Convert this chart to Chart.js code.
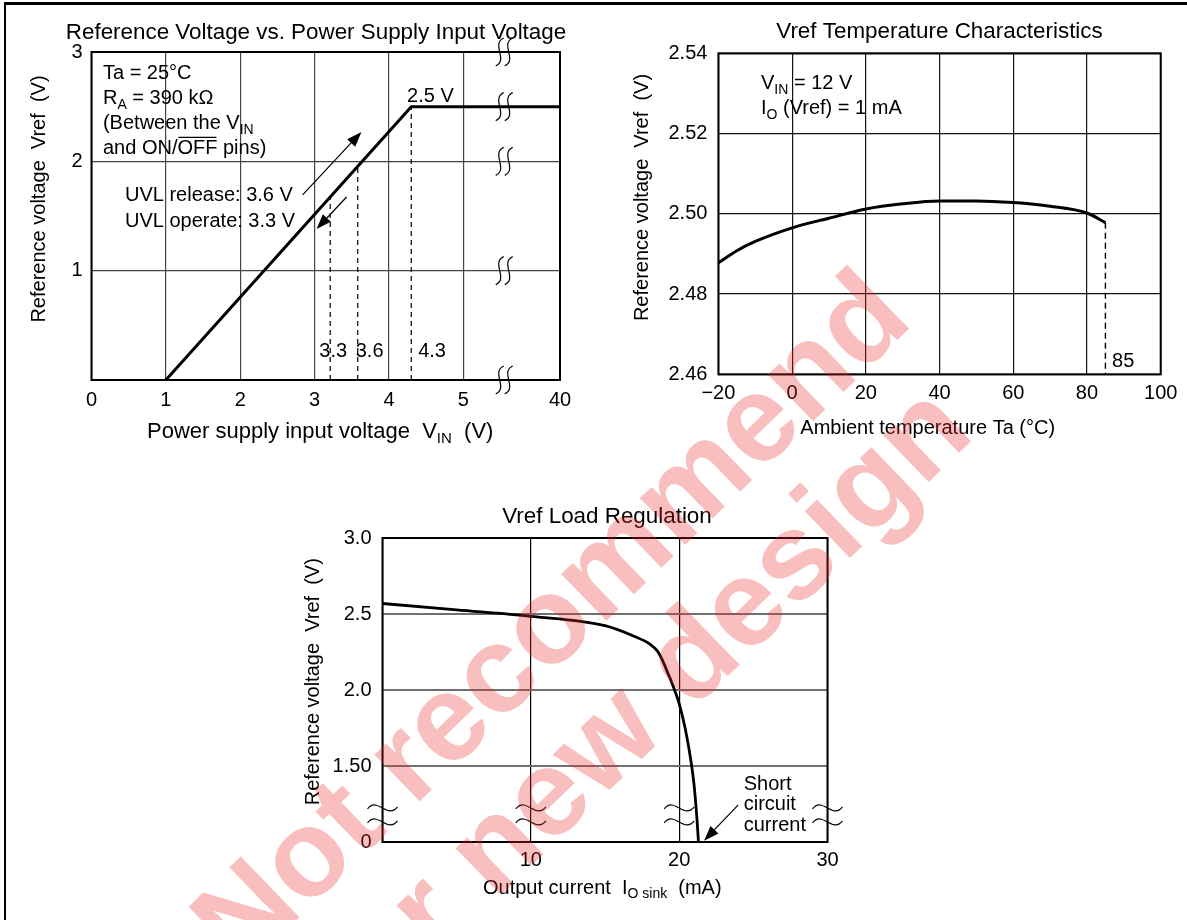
<!DOCTYPE html>
<html>
<head>
<meta charset="utf-8">
<script src="https://cdn.jsdelivr.net/npm/chart.js@4.4.1/dist/chart.umd.min.js"></script>
<style>
  body { margin: 0; background: #fff; width: 1187px; height: 920px; overflow: hidden; position: relative; }
  .frame { position: absolute; left: 4px; top: 2px; width: 1200px; height: 960px; border-left: 2px solid #000; border-top: 3px solid #000; }
  canvas { position: absolute; }
  #vinChart { left: 0; top: 0; }
  #tempChart { left: 600px; top: 0; }
  #loadChart { left: 290px; top: 480px; }
  #stamp { left: 0; top: 0; pointer-events: none; }
</style>
</head>
<body>
<div class="frame"></div>
<canvas id="vinChart" width="600" height="450"></canvas>
<canvas id="tempChart" width="587" height="450"></canvas>
<canvas id="loadChart" width="580" height="440"></canvas>
<canvas id="stamp" width="1187" height="920"></canvas>
<script>
// --- Vref vs. VIN (x axis broken between 5 V and 40 V)
const vinPoints = [1, 4.3, 40];
const vrefVsVin = [0, 2.5, 2.5];
const vinTicks = [0, 1, 2, 3, 4, 5, 40];
const vrefTicks = [0, 1, 2, 3];
const uvlMarks = [3.21, 3.58, 4.3];
const uvlLabels = ['3.3', '3.6', '4.3'];

// --- Vref vs. ambient temperature
const tempC = [-20, -15, -10, 0, 10, 20, 30, 40, 50, 60, 70, 80, 85];
const vrefVsTemp = [2.4878, 2.4908, 2.4931, 2.4965, 2.4989, 2.5012, 2.5025, 2.5032, 2.5032, 2.5028, 2.5019, 2.5002, 2.4978];
const tempTicks = [-20, 0, 20, 40, 60, 80, 100];
const tempVrefTicks = [2.46, 2.48, 2.50, 2.52, 2.54];

// --- Vref load regulation (y axis broken between 0 and 1.5 V)
const ioSink = [0, 5, 10, 15, 17, 18, 18.55, 18.9, 19.2, 19.5, 19.8, 20, 20.5, 21, 21.2, 21.3];
const vrefVsLoad = [2.569, 2.527, 2.485, 2.423, 2.352, 2.304, 2.254, 2.19, 2.12, 2.05, 1.97, 1.91, 1.70, 1.38, 1.15, 0];
const ioTicks = [0, 10, 20, 30];
const loadTickPos = [1.0, 1.5, 2.0, 2.5, 3.0];
const loadTickText = ['0', '1.50', '2.0', '2.5', '3.0'];

const FONT = '"Liberation Sans", Arial, Helvetica, sans-serif';
Chart.defaults.font.family = FONT;
Chart.defaults.color = '#000';

// broken axes
const mapVin = v => v <= 5 ? v : 5 + (v - 5) * (1.3 / 35);
const mapLoad = v => v <= 0 ? 1.0 : v;

function interp(xs, ys, x) {
    for (let i = 1; i < xs.length; i++) {
        if (x <= xs[i]) return ys[i - 1] + (ys[i] - ys[i - 1]) * (x - xs[i - 1]) / (xs[i] - xs[i - 1]);
    }
    return ys[ys.length - 1];
}

function setFont(ctx, size, weight) {
    ctx.font = (weight || 'normal') + ' ' + size + 'px ' + FONT;
}

// parts: [text, style] with style '' | 'sub' | 'over'; y is the middle of capitals
function drawRich(ctx, parts, x, y, size, align) {
    const subSize = Math.round(size * 0.7);
    let total = 0;
    const widths = parts.map(([t, s]) => {
        setFont(ctx, s === 'sub' ? subSize : size);
        const w = ctx.measureText(t).width;
        total += w;
        return w;
    });
    let cx = align === 'center' ? x - total / 2 : (align === 'right' ? x - total : x);
    const base = y + size * 0.36;
    ctx.save();
    ctx.textAlign = 'left';
    ctx.textBaseline = 'alphabetic';
    ctx.fillStyle = '#000';
    ctx.strokeStyle = '#000';
    parts.forEach(([t, s], i) => {
        setFont(ctx, s === 'sub' ? subSize : size);
        ctx.fillText(t, cx, s === 'sub' ? base + size * 0.22 : base);
        if (s === 'over') {
            ctx.lineWidth = 1.3;
            ctx.beginPath();
            ctx.moveTo(cx + 1, base - size * 0.84);
            ctx.lineTo(cx + widths[i] - 1, base - size * 0.84);
            ctx.stroke();
        }
        cx += widths[i];
    });
    ctx.restore();
}

function drawVertical(ctx, text, cx, cy, size) {
    ctx.save();
    ctx.translate(cx, cy);
    ctx.rotate(-Math.PI / 2);
    drawRich(ctx, [[text, '']], 0, 0, size, 'center');
    ctx.restore();
}

function px(chart, x, y) {
    return [chart.scales.x.getPixelForValue(x), chart.scales.y.getPixelForValue(y)];
}

function arrow(ctx, a, b, head, half) {
    const ang = Math.atan2(b[1] - a[1], b[0] - a[0]);
    ctx.save();
    ctx.strokeStyle = '#000';
    ctx.fillStyle = '#000';
    ctx.lineWidth = 1.2;
    ctx.beginPath();
    ctx.moveTo(a[0], a[1]);
    ctx.lineTo(b[0] - Math.cos(ang) * head * 0.8, b[1] - Math.sin(ang) * head * 0.8);
    ctx.stroke();
    ctx.translate(b[0], b[1]);
    ctx.rotate(ang);
    ctx.beginPath();
    ctx.moveTo(0, 0);
    ctx.lineTo(-head, -half);
    ctx.lineTo(-head, half);
    ctx.closePath();
    ctx.fill();
    ctx.restore();
}

function frameArea(chart, width) {
    const a = chart.chartArea, ctx = chart.ctx;
    ctx.save();
    ctx.strokeStyle = '#000';
    ctx.lineWidth = width;
    ctx.strokeRect(a.left, a.top, a.right - a.left, a.bottom - a.top);
    ctx.restore();
}

function fixedBox(left, bottomHeight) {
    return {
        x: s => { s.height = bottomHeight; },
        y: s => { s.width = left; }
    };
}

function baseOptions(padding) {
    return {
        responsive: false,
        animation: false,
        events: [],
        layout: { padding: padding },
        plugins: { legend: { display: false }, tooltip: { enabled: false }, title: { display: false } },
        scales: {}
    };
}

// ---------------- chart 1: Vref vs VIN ----------------
const vinBox = fixedBox(91.5, 70);
const vinOpts = baseOptions({ top: 52, right: 40, left: 0, bottom: 0 });
vinOpts.scales = {
    x: {
        type: 'linear', min: 0, max: mapVin(40),
        afterBuildTicks: s => { s.ticks = vinTicks.map(v => ({ value: mapVin(v) })); },
        afterFit: vinBox.x,
        ticks: { font: { size: 20 }, padding: 8, maxRotation: 0, autoSkip: false, callback: (v, i) => String(vinTicks[i]) },
        grid: { color: '#444', lineWidth: 1.2, drawTicks: false },
        border: { display: false }
    },
    y: {
        min: 0, max: 3,
        afterBuildTicks: s => { s.ticks = vrefTicks.map(v => ({ value: v })); },
        afterFit: vinBox.y,
        ticks: { font: { size: 20 }, padding: 9, callback: (v, i) => vrefTicks[i] === 0 ? '' : String(vrefTicks[i]) },
        grid: { color: '#444', lineWidth: 1.2, drawTicks: false },
        border: { display: false }
    }
};

new Chart(document.getElementById('vinChart'), {
    type: 'line',
    data: {
        datasets: [{
            data: vinPoints.map((v, i) => ({ x: mapVin(v), y: vrefVsVin[i] })),
            borderColor: '#000', borderWidth: 3, pointRadius: 0, tension: 0, fill: false
        }]
    },
    options: vinOpts,
    plugins: [{
        id: 'vinExtras',
        beforeDatasetsDraw(chart) {
            const ctx = chart.ctx;
            frameArea(chart, 2);
            // dashed drop lines
            ctx.save();
            ctx.strokeStyle = '#000';
            ctx.lineWidth = 1.2;
            ctx.setLineDash([5, 4]);
            uvlMarks.forEach(m => {
                const top = px(chart, m, interp(vinPoints, vrefVsVin, m));
                const bot = px(chart, m, 0);
                ctx.beginPath();
                ctx.moveTo(top[0], bot[1]);
                ctx.lineTo(top[0], top[1]);
                ctx.stroke();
            });
            ctx.restore();
        },
        afterDatasetsDraw(chart) {
            const ctx = chart.ctx;
            drawRich(ctx, [['Reference Voltage vs. Power Supply Input Voltage', '']], 316, 31, 22.4, 'center');
            drawVertical(ctx, 'Reference voltage  Vref  (V)', 38, 199, 20);
            drawRich(ctx, [['Power supply input voltage  V', ''], ['IN', 'sub'], ['  (V)', '']], 147, 430, 22, 'left');

            const note = [
                [['Ta = 25°C', '']],
                [['R', ''], ['A', 'sub'], [' = 390 kΩ', '']],
                [['(Between the V', ''], ['IN', 'sub']],
                [['and ON/', ''], ['OFF', 'over'], [' pins)', '']]
            ];
            const noteY = [2.818, 2.589, 2.36, 2.132];
            note.forEach((parts, i) => {
                const p = px(chart, 0.154, noteY[i]);
                drawRich(ctx, parts, p[0], p[1], 20, 'left');
            });
            let p = px(chart, 0.45, 1.70);
            drawRich(ctx, [['UVL release: 3.6 V', '']], p[0], p[1], 20, 'left');
            p = px(chart, 0.45, 1.464);
            drawRich(ctx, [['UVL operate: 3.3 V', '']], p[0], p[1], 20, 'left');
            p = px(chart, 4.557, 2.607);
            drawRich(ctx, [['2.5 V', '']], p[0], p[1], 20, 'center');
            const labelX = [3.25, 3.74, 4.58];
            uvlLabels.forEach((t, i) => {
                const q = px(chart, labelX[i], 0.274);
                drawRich(ctx, [[t, '']], q[0], q[1], 20, 'center');
            });

            arrow(ctx, px(chart, 2.839, 1.693), px(chart, 3.63, 2.269), 15, 5.5);
            arrow(ctx, px(chart, 3.43, 1.674), px(chart, 3.027, 1.381), 15, 5.5);

            // axis break marks
            ctx.save();
            ctx.strokeStyle = '#000';
            ctx.lineWidth = 1.2;
            [0, 1, 2, 2.5, 3].forEach(v => {
                const c = px(chart, 5.55, v);
                [-4.5, 4.5].forEach(dx => {
                    const x = c[0] + dx, y = c[1];
                    ctx.beginPath();
                    ctx.moveTo(x + 4, y - 14);
                    ctx.bezierCurveTo(x - 9, y - 8, x + 9, y + 8, x - 4, y + 14);
                    ctx.stroke();
                });
            });
            ctx.restore();
        }
    }]
});

// ---------------- chart 2: Vref vs temperature ----------------
const tempBox = fixedBox(118.4, 75.7);
const tempOpts = baseOptions({ top: 53.3, right: 26.3, left: 0, bottom: 0 });
tempOpts.scales = {
    x: {
        type: 'linear', min: -20, max: 100,
        afterBuildTicks: s => { s.ticks = tempTicks.map(v => ({ value: v })); },
        afterFit: tempBox.x,
        ticks: { font: { size: 20 }, padding: 7, maxRotation: 0, autoSkip: false, callback: (v, i) => tempTicks[i] < 0 ? '\u2212' + Math.abs(tempTicks[i]) : String(tempTicks[i]) },
        grid: { color: '#111', lineWidth: 1.2, drawTicks: false },
        border: { display: false }
    },
    y: {
        min: 2.46, max: 2.54,
        afterBuildTicks: s => { s.ticks = tempVrefTicks.map(v => ({ value: v })); },
        afterFit: tempBox.y,
        ticks: { font: { size: 20 }, padding: 11, callback: (v, i) => tempVrefTicks[i].toFixed(2) },
        grid: { color: '#111', lineWidth: 1.2, drawTicks: false },
        border: { display: false }
    }
};

new Chart(document.getElementById('tempChart'), {
    type: 'line',
    data: {
        datasets: [{
            data: tempC.map((t, i) => ({ x: t, y: vrefVsTemp[i] })),
            borderColor: '#000', borderWidth: 3, pointRadius: 0,
            cubicInterpolationMode: 'monotone', fill: false
        }]
    },
    options: tempOpts,
    plugins: [{
        id: 'tempExtras',
        beforeDatasetsDraw(chart) {
            const ctx = chart.ctx;
            frameArea(chart, 2);
            const last = tempC.length - 1;
            const top = px(chart, tempC[last], vrefVsTemp[last]);
            const bot = px(chart, tempC[last], 2.46);
            ctx.save();
            ctx.strokeStyle = '#000';
            ctx.lineWidth = 1.4;
            ctx.setLineDash([6, 4]);
            ctx.beginPath();
            ctx.moveTo(top[0], top[1]);
            ctx.lineTo(bot[0], bot[1]);
            ctx.stroke();
            ctx.restore();
        },
        afterDatasetsDraw(chart) {
            const ctx = chart.ctx;
            drawRich(ctx, [['Vref Temperature Characteristics', '']], 339.5, 30, 22.4, 'center');
            drawVertical(ctx, 'Reference voltage  Vref  (V)', 41, 197.5, 20);
            drawRich(ctx, [['Ambient temperature Ta (°C)', '']], 327.7, 427, 20, 'center');
            let p = px(chart, -8.44, 2.5328);
            drawRich(ctx, [['V', ''], ['IN', 'sub'], [' = 12 V', '']], p[0], p[1], 20, 'left');
            p = px(chart, -8.44, 2.5266);
            drawRich(ctx, [['I', ''], ['O', 'sub'], [' (Vref) = 1 mA', '']], p[0], p[1], 20, 'left');
            p = px(chart, 86.8, 2.4636);
            drawRich(ctx, [['85', '']], p[0], p[1], 20, 'left');
        }
    }]
});

// ---------------- chart 3: load regulation ----------------
const loadBox = fixedBox(92.5, 78);
const loadOpts = baseOptions({ top: 58, right: 42.5, left: 0, bottom: 0 });
loadOpts.scales = {
    x: {
        type: 'linear', min: 0, max: 30,
        afterBuildTicks: s => { s.ticks = ioTicks.map(v => ({ value: v })); },
        afterFit: loadBox.x,
        ticks: { font: { size: 20 }, padding: 6, maxRotation: 0, autoSkip: false, callback: (v, i) => ioTicks[i] === 0 ? '' : String(ioTicks[i]) },
        grid: { color: '#000', lineWidth: 1.2, drawTicks: false },
        border: { display: false }
    },
    y: {
        min: 1, max: 3,
        afterBuildTicks: s => { s.ticks = loadTickPos.map(v => ({ value: v })); },
        afterFit: loadBox.y,
        ticks: { font: { size: 20 }, padding: 11, callback: (v, i) => loadTickText[i] },
        grid: { color: '#707070', lineWidth: 2, drawTicks: false },
        border: { display: false }
    }
};

new Chart(document.getElementById('loadChart'), {
    type: 'line',
    data: {
        datasets: [{
            data: ioSink.map((x, i) => ({ x: x, y: mapLoad(vrefVsLoad[i]) })),
            borderColor: '#000', borderWidth: 2.8, pointRadius: 0,
            cubicInterpolationMode: 'monotone', fill: false
        }]
    },
    options: loadOpts,
    plugins: [{
        id: 'loadExtras',
        beforeDatasetsDraw(chart) {
            frameArea(chart, 2);
        },
        afterDatasetsDraw(chart) {
            const ctx = chart.ctx;
            drawRich(ctx, [['Vref Load Regulation', '']], 317, 35, 22.4, 'center');
            drawVertical(ctx, 'Reference voltage  Vref  (V)', 22, 201.7, 20);
            drawRich(ctx, [['Output current  I', ''], ['O sink', 'sub'], ['  (mA)', '']], 193, 406.7, 20, 'left');
            ['Short', 'circuit', 'current'].forEach((t, i) => {
                const p = px(chart, 24.35, [1.39, 1.258, 1.123][i]);
                drawRich(ctx, [[t, '']], p[0], p[1], 20, 'left');
            });
            arrow(ctx, px(chart, 23.97, 1.243), px(chart, 21.68, 1.009), 15, 5.5);

            // axis break marks
            ctx.save();
            ctx.strokeStyle = '#000';
            ctx.lineWidth = 1.2;
            ioTicks.forEach(v => {
                const c = px(chart, v, 1.178);
                [-7, 7].forEach(dy => {
                    const x = c[0], y = c[1] + dy;
                    ctx.beginPath();
                    ctx.moveTo(x - 15, y + 1);
                    ctx.bezierCurveTo(x - 5, y - 12, x + 5, y + 12, x + 15, y - 1);
                    ctx.stroke();
                });
            });
            ctx.restore();
        }
    }]
});

// ---------------- watermark ----------------
(function () {
    const c = document.getElementById('stamp');
    const ctx = c.getContext('2d');
    ctx.save();
    ctx.translate(556, 625);
    ctx.rotate(-44 * Math.PI / 180);
    ctx.font = 'bold 123px ' + FONT;
    ctx.textAlign = 'center';
    ctx.textBaseline = 'alphabetic';
    ctx.fillStyle = 'rgba(235, 40, 40, 0.3)';
    ctx.fillText('Not recommend', 0, 32);
    ctx.fillText('for new design', 0, 32 + 124);
    ctx.restore();
})();
</script>
</body>
</html>
